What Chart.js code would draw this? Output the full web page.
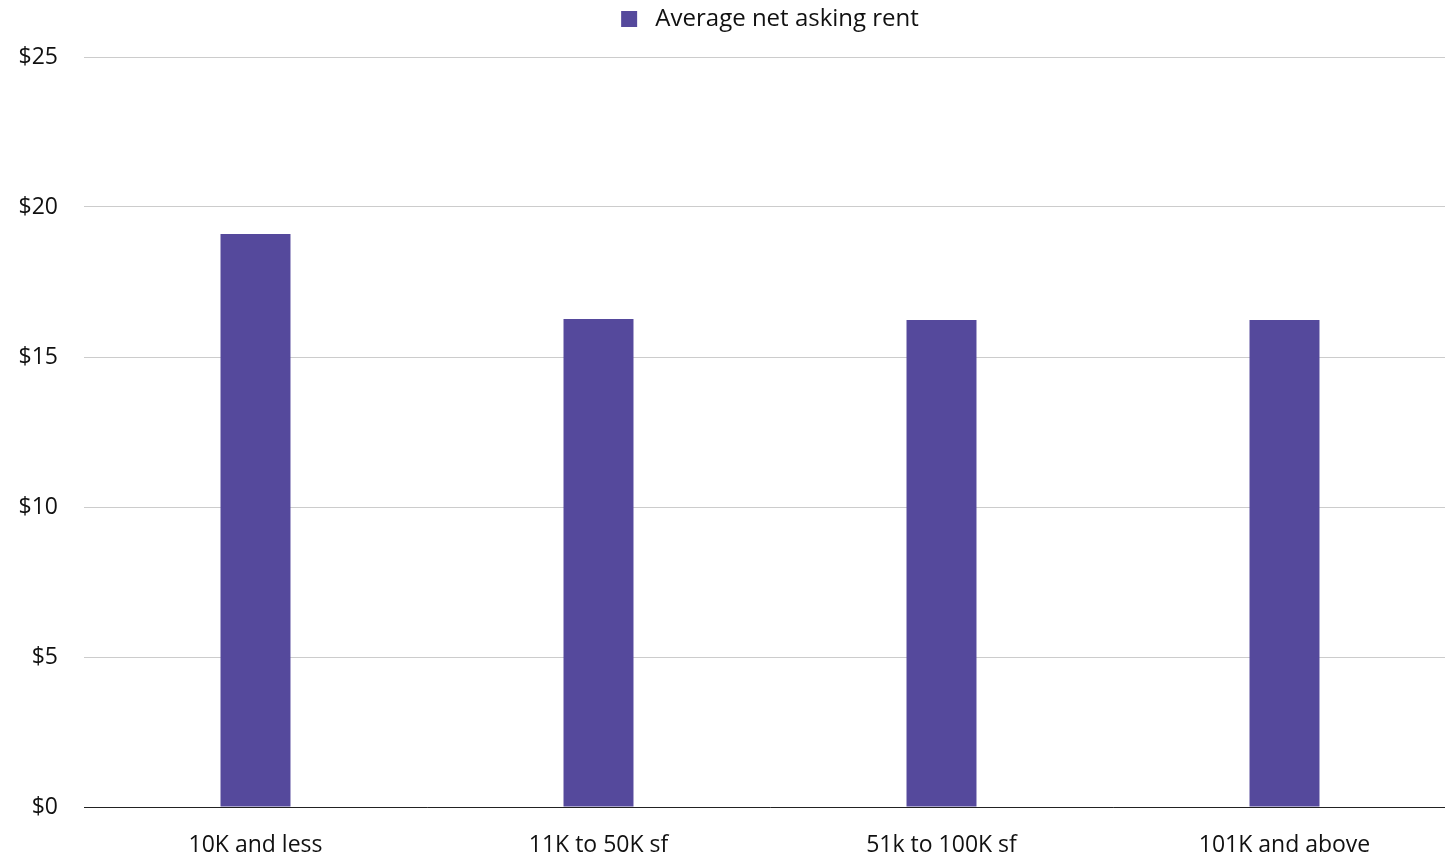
<!DOCTYPE html>
<html>
<head>
<meta charset="utf-8">
<script src="https://cdn.jsdelivr.net/npm/chart.js@4.4.1/dist/chart.umd.min.js"></script>
<style>
  html, body { margin: 0; padding: 0; background: #ffffff; overflow: hidden; }
  /* the plot runs slightly past the right edge of the frame */
  #wrap { width: 1445px; height: 856px; position: relative; overflow: hidden; }
  #chart { display: block; }
</style>
</head>
<body>
<div id="wrap"><canvas id="chart" width="1456" height="856"></canvas></div>
<script>
// Size bands and their average net asking rents ($/sf)
const categories = ["10K and less", "11K to 50K sf", "51k to 100K sf", "101K and above"];
const rentValues = [19.1, 16.27, 16.23, 16.23];
const seriesLabel = "Average net asking rent";
const yTicks = [0, 5, 10, 15, 20, 25];

const purple = "#55499c";
const fontFamily = "'Open Sans'";

// Leave extra room under the legend row before the plot starts
const legendGap = {
  id: "legendGap",
  beforeLayout(chart) {
    const legend = chart.legend;
    if (legend && !legend._gapPatched) {
      const fit = legend.fit.bind(legend);
      legend.fit = function () { fit(); this.height += 16; };
      legend._gapPatched = true;
    }
  }
};

new Chart(document.getElementById("chart"), {
  type: "bar",
  data: {
    labels: categories,
    datasets: [{
      label: seriesLabel,
      data: rentValues,
      backgroundColor: purple,
      borderWidth: 0,
      barPercentage: 0.204,
      categoryPercentage: 1.0
    }]
  },
  plugins: [legendGap],
  options: {
    responsive: false,
    animation: false,
    layout: { padding: { left: 0, right: 0, top: 0, bottom: 0 } },
    plugins: {
      legend: {
        position: "top",
        fullSize: false,
        labels: {
          font: { family: fontFamily, size: 24 },
          color: "#111111",
          boxWidth: 16,
          boxHeight: 16,
          padding: 7,
          generateLabels: (chart) =>
            Chart.defaults.plugins.legend.labels.generateLabels(chart)
              .map(item => Object.assign(item, { text: " " + item.text }))
        }
      },
      tooltip: { enabled: false }
    },
    scales: {
      x: {
        afterFit: (axis) => { axis.height = 49; },
        grid: { display: false, drawTicks: false },
        border: { color: "#222222", width: 1 },
        ticks: {
          font: { family: fontFamily, size: 23 },
          color: "#111111",
          padding: 25
        }
      },
      y: {
        min: 0,
        max: 25,
        afterBuildTicks: (axis) => { axis.ticks = yTicks.map(v => ({ value: v })); },
        afterFit: (axis) => { axis.width = 84; },
        grid: { color: "#cccccc", drawTicks: false },
        border: { display: false },
        ticks: {
          font: { family: fontFamily, size: 23 },
          color: "#111111",
          padding: 26,
          callback: (v) => "$" + v
        }
      }
    }
  }
});
</script>
</body>
</html>
